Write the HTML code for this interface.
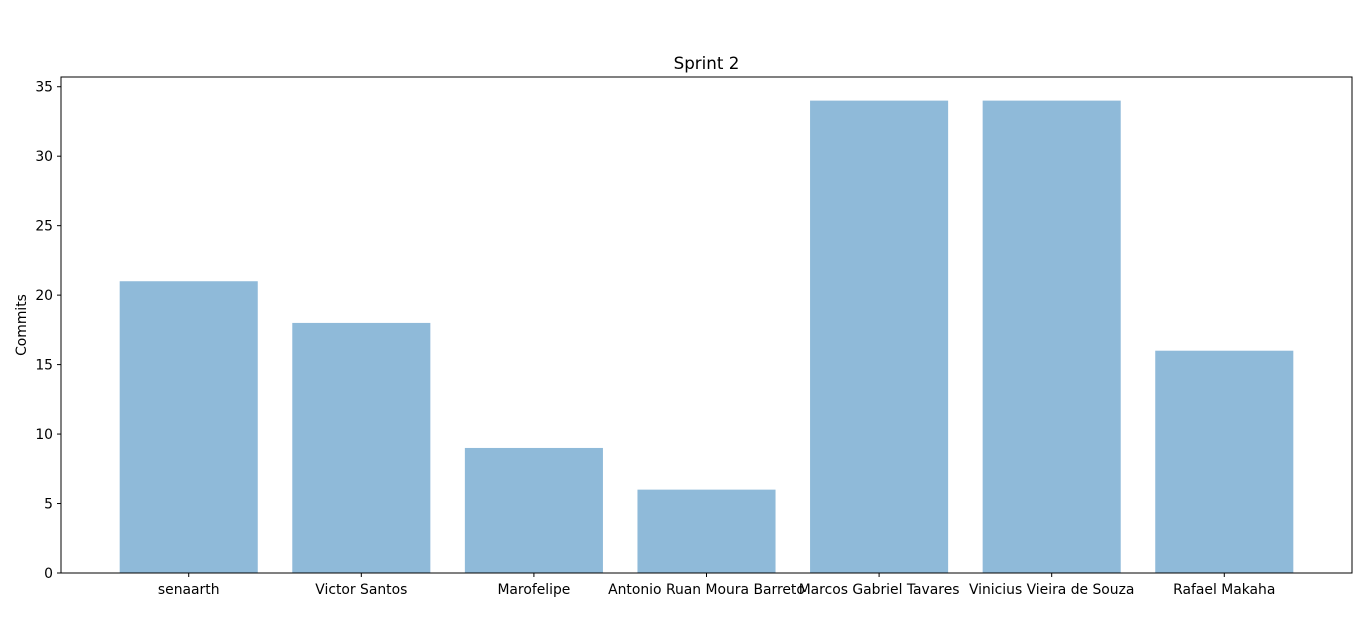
<!DOCTYPE html>
<html><head><meta charset="utf-8"><style>
body{margin:0;background:#fff;}
svg{display:block;font-family:"DejaVu Sans","Liberation Sans",sans-serif;}
</style></head><body>
<svg id="chart" width="1366" height="644" xmlns="http://www.w3.org/2000/svg">
<text x="706.5" y="69" text-anchor="middle" font-size="16.7">Sprint 2</text>
<text transform="translate(26,325) rotate(-90)" text-anchor="middle" font-size="13.9">Commits</text>
<g id="bars"></g><g id="yticks"></g><g id="xticks"></g>
<rect x="61" y="77" width="1291" height="496" fill="none" stroke="#000" stroke-width="1"/>
</svg>
<script>
const categories=["senaarth","Victor Santos","Marofelipe","Antonio Ruan Moura Barreto","Marcos Gabriel Tavares","Vinicius Vieira de Souza","Rafael Makaha"];
const values=[21,18,9,6,34,34,16];
const yTicks=[0,5,10,15,20,25,30,35];
const L=61,R=1352,T=77,B=573;
const ymax=Math.max(...values)*1.05;
const y=v=>B-(v/ymax)*(B-T);
const xmin=-0.74,xmax=categories.length-1+0.74;
const x=i=>L+(i-xmin)/(xmax-xmin)*(R-L);
const bw=0.8*(R-L)/(xmax-xmin);
const NS="http://www.w3.org/2000/svg";
const mk=(t,a,p)=>{const e=document.createElementNS(NS,t);for(const k in a)e.setAttribute(k,a[k]);p.appendChild(e);return e;};
const bars=document.getElementById('bars'),yt=document.getElementById('yticks'),xt=document.getElementById('xticks');
values.forEach((v,i)=>{
 const r=mk('rect',{x:x(i)-bw/2,y:y(v),width:bw,height:B-y(v),fill:'#8fbad9'},bars);
 
 
 const tk=mk('line',{x1:x(i),x2:x(i),y1:B,y2:B+4,stroke:'#000'},xt);
 
 
 const t=mk('text',{x:x(i),y:B+21,'text-anchor':'middle','font-size':'13.9'},xt);
 t.textContent=categories[i];
 
 
});
yTicks.forEach(v=>{
 const tk=mk('line',{x1:L-4,x2:L,y1:y(v),y2:y(v),stroke:'#000'},yt);
 
 
 const t=mk('text',{x:L-8,y:y(v)+5,'text-anchor':'end','font-size':'13.9'},yt);
 t.textContent=v;
 
 
});
</script>
</body></html>
